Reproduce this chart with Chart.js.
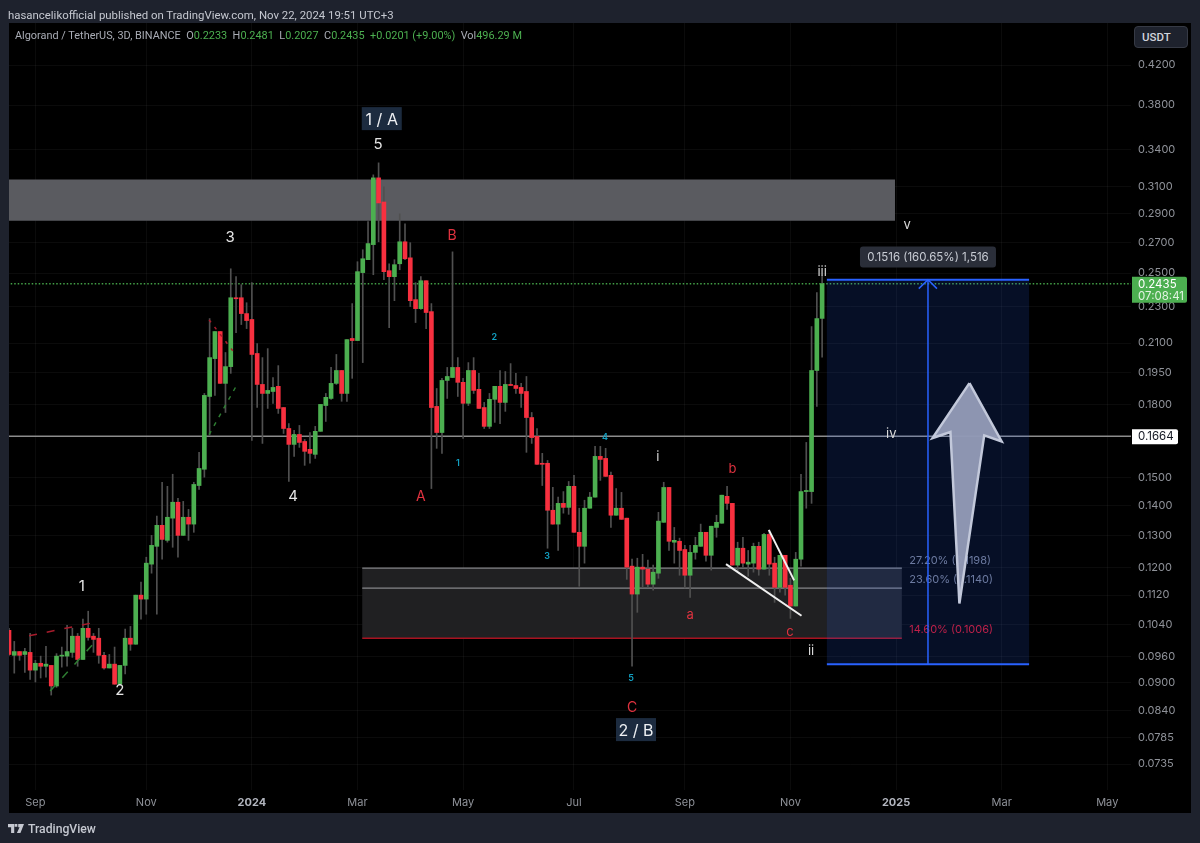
<!DOCTYPE html>
<html>
<head>
<meta charset="utf-8">
<title>Algorand / TetherUS</title>
<script src="https://cdn.jsdelivr.net/npm/chart.js@4"></script>
<style>
  html, body { margin: 0; padding: 0; background: #1e222d; }
  body { width: 1200px; height: 843px; position: relative; overflow: hidden; font-family: Inter, sans-serif; }
  #panel { position: absolute; left: 9px; top: 23px; width: 1182px; height: 790px; background: #000; }
  canvas { position: absolute; left: 0; top: 0; }
  .txt { position: absolute; white-space: pre; font-family: Roboto, sans-serif; }
  #published { left: 8px; top: 8px; font-size: 11.4px; color: #c5c8d0; }
  #legend { left: 15px; top: 29px; font-size: 10.9px; color: #a9acb5; }
  #legend b { font-weight: 400; color: #4caf50; }
  #unit { left: 1134px; top: 26px; width: 54px; height: 22px; box-sizing: border-box; border: 1px solid #363a45;
          border-radius: 4px; background: #1e222d; color: #d1d4dc; font-size: 11.5px; font-weight: 500; padding-left: 7px; line-height: 20px; }
  #brand { left: 28px; top: 822px; font-size: 12.2px; font-weight: 500; color: #c5c8d0; }
  #logo { position: absolute; left: 8px; top: 824px; }
</style>
</head>
<body>
<div id="panel"></div>
<canvas id="myChart" width="1200" height="843"></canvas>
<div class="txt" id="published">hasancelikofficial published on TradingView.com, Nov 22, 2024 19:51 UTC+3</div>
<div class="txt" id="legend">Algorand / TetherUS, 3D, BINANCE  O<b>0.2233</b>  H<b>0.2481</b>  L<b>0.2027</b>  C<b>0.2435</b>  <b>+0.0201 (+9.00%)</b>  Vol<b>496.29 M</b></div>
<div class="txt" id="unit">USDT</div>
<svg id="logo" width="16" height="9" viewBox="0 0 36 20"><path fill="#c5c8d0" d="M0 0h14v20H7V7H0zM15 0h6v6h-6zM23 0h13l-8 20h-8l6-13h-3z"/></svg>
<div class="txt" id="brand">TradingView</div>

<script>
// 3D candles
var opens = [
  0.1026,0.0964,0.0973,0.0966,0.0971,0.0929,0.0945,0.0938,0.0940,0.0893,
  0.0962,0.0962,0.0971,0.1011,0.0954,0.1031,0.1011,0.1006,0.0964,0.0934,
  0.0943,0.0897,0.0940,0.1006,0.0991,0.1120,0.1109,0.1210,0.1265,0.1333,
  0.1284,0.1357,0.1412,0.1300,0.1360,0.1337,0.1472,0.1533,0.1838,0.2020,
  0.2161,0.1899,0.1980,0.2351,0.2351,0.2260,0.2227,0.2046,0.1894,0.1852,
  0.1861,0.1885,0.1788,0.1697,0.1631,0.1672,0.1643,0.1611,0.1591,0.1685,
  0.1797,0.1829,0.1899,0.1961,0.1852,0.2124,0.2113,0.2503,0.2585,0.2684,
  0.3170,0.2985,0.2515,0.2478,0.2559,0.2703,0.2597,0.2340,0.2288,0.2453,
  0.2271,0.1793,0.1680,0.1913,0.1927,0.1976,0.1904,0.1807,0.1961,0.1871,
  0.1788,0.1706,0.1825,0.1885,0.1811,0.1894,0.1889,0.1880,0.1861,0.1744,
  0.1664,0.1556,0.1556,0.1384,0.1337,0.1408,0.1394,0.1469,0.1310,0.1265,
  0.1391,0.1430,0.1583,0.1575,0.1510,0.1367,0.1391,0.1357,0.1204,0.1123,
  0.1201,0.1195,0.1151,0.1183,0.1343,0.1465,0.1278,0.1281,0.1255,0.1177,
  0.1246,0.1265,0.1310,0.1237,0.1326,0.1340,0.1433,0.1408,0.1207,0.1259,
  0.1210,0.1213,0.1265,0.1195,0.1303,0.1213,0.1142,0.1237,0.1148,0.1090,
  0.1225,0.1450,0.1450,0.1961,0.2233
];
var closes = [
  0.0966,0.0973,0.0964,0.0973,0.0929,0.0945,0.0938,0.0943,0.0893,0.0962,
  0.0964,0.0973,0.1011,0.0954,0.1031,0.1008,0.1003,0.0964,0.0934,0.0943,
  0.0897,0.0940,0.1006,0.0991,0.1120,0.1109,0.1213,0.1268,0.1333,0.1287,
  0.1360,0.1412,0.1300,0.1360,0.1337,0.1476,0.1536,0.1843,0.2025,0.2161,
  0.1899,0.1980,0.2351,0.2345,0.2260,0.2221,0.2041,0.1894,0.1852,0.1866,
  0.1880,0.1784,0.1697,0.1631,0.1672,0.1639,0.1603,0.1595,0.1685,0.1802,
  0.1834,0.1899,0.1961,0.1852,0.2118,0.2113,0.2509,0.2591,0.2691,0.3170,
  0.2978,0.2509,0.2478,0.2553,0.2703,0.2591,0.2334,0.2288,0.2453,0.2266,
  0.1788,0.1680,0.1913,0.1932,0.1976,0.1904,0.1807,0.1961,0.1866,0.1784,
  0.1706,0.1825,0.1885,0.1811,0.1894,0.1889,0.1875,0.1852,0.1744,0.1659,
  0.1552,0.1552,0.1384,0.1337,0.1408,0.1394,0.1469,0.1310,0.1265,0.1391,
  0.1430,0.1583,0.1571,0.1506,0.1367,0.1391,0.1353,0.1201,0.1123,0.1201,
  0.1195,0.1151,0.1186,0.1347,0.1465,0.1281,0.1284,0.1252,0.1177,0.1246,
  0.1268,0.1310,0.1237,0.1330,0.1343,0.1437,0.1408,0.1207,0.1259,0.1213,
  0.1216,0.1265,0.1195,0.1303,0.1210,0.1142,0.1237,0.1142,0.1090,0.1225,
  0.1450,0.1454,0.1961,0.2232,0.2435
];
var highs = [
  0.1031,0.0998,0.0973,0.0981,0.1018,0.0952,0.0962,0.0986,0.0940,0.0968,
  0.0984,0.1039,0.1031,0.1018,0.1055,0.1076,0.1018,0.1031,0.0971,0.0966,
  0.0984,0.0940,0.1029,0.1036,0.1120,0.1157,0.1231,0.1300,0.1364,0.1484,
  0.1469,0.1514,0.1426,0.1415,0.1387,0.1484,0.1599,0.1852,0.2232,0.2161,
  0.2161,0.2051,0.2527,0.2478,0.2429,0.2322,0.2441,0.2097,0.2025,0.2071,
  0.1927,0.1985,0.1788,0.1718,0.1689,0.1710,0.1651,0.1680,0.1706,0.1802,
  0.1852,0.1976,0.2041,0.1961,0.2118,0.2317,0.2572,0.2650,0.2842,0.3194,
  0.3291,0.3100,0.2559,0.2585,0.2898,0.2827,0.2697,0.2441,0.2478,0.2453,
  0.2317,0.1875,0.1923,0.1976,0.2636,0.2025,0.1923,0.2000,0.2025,0.1947,
  0.1811,0.1852,0.1885,0.1961,0.1956,0.1995,0.1947,0.1899,0.1932,0.1766,
  0.1697,0.1595,0.1567,0.1465,0.1430,0.1450,0.1487,0.1510,0.1391,0.1419,
  0.1447,0.1623,0.1623,0.1615,0.1522,0.1461,0.1447,0.1357,0.1225,0.1228,
  0.1240,0.1222,0.1207,0.1377,0.1484,0.1465,0.1326,0.1291,0.1268,0.1268,
  0.1294,0.1337,0.1310,0.1330,0.1367,0.1437,0.1469,0.1408,0.1278,0.1294,
  0.1252,0.1275,0.1278,0.1307,0.1316,0.1231,0.1237,0.1237,0.1168,0.1246,
  0.1514,0.1639,0.2188,0.2381,0.2481
];
var lows = [
  0.0964,0.0922,0.0952,0.0924,0.0908,0.0902,0.0911,0.0913,0.0873,0.0890,
  0.0936,0.0938,0.0959,0.0938,0.0954,0.1001,0.0971,0.0945,0.0931,0.0934,
  0.0897,0.0895,0.0920,0.0976,0.0991,0.1055,0.1068,0.1183,0.1068,0.1225,
  0.1278,0.1262,0.1231,0.1300,0.1284,0.1310,0.1458,0.1503,0.1668,0.1843,
  0.1899,0.1766,0.1947,0.2155,0.2199,0.2177,0.1647,0.1788,0.1635,0.1784,
  0.1807,0.1762,0.1676,0.1487,0.1583,0.1619,0.1548,0.1556,0.1575,0.1685,
  0.1727,0.1825,0.1894,0.1816,0.1816,0.1923,0.2113,0.2000,0.2585,0.2490,
  0.2703,0.2459,0.2182,0.2334,0.2521,0.2585,0.2300,0.2210,0.2283,0.2177,
  0.1461,0.1615,0.1595,0.1829,0.1927,0.1838,0.1655,0.1797,0.1852,0.1784,
  0.1697,0.1697,0.1723,0.1718,0.1771,0.1889,0.1852,0.1788,0.1599,0.1635,
  0.1552,0.1472,0.1259,0.1337,0.1252,0.1374,0.1370,0.1310,0.1145,0.1213,
  0.1391,0.1430,0.1491,0.1506,0.1326,0.1367,0.1353,0.1165,0.0938,0.1073,
  0.1142,0.1142,0.1134,0.1168,0.1343,0.1252,0.1213,0.1177,0.1140,0.1114,
  0.1225,0.1265,0.1219,0.1192,0.1294,0.1340,0.1387,0.1207,0.1189,0.1201,
  0.1174,0.1186,0.1177,0.1195,0.1177,0.1100,0.1128,0.1120,0.1057,0.1090,
  0.1204,0.1391,0.1408,0.1793,0.2027
];

// axes
var priceTicks = [0.42,0.38,0.34,0.31,0.29,0.27,0.25,0.23,0.21,0.195,0.18,0.15,0.14,0.13,0.12,0.112,0.104,0.096,0.09,0.084,0.0785,0.0735];
var timeTicks = [5,26,46,66,86,107,128,148,168,188,208];
var timeLabels = ['Sep','Nov','2024','Mar','May','Jul','Sep','Nov','2025','Mar','May'];
var yearTicks = [46,168];
var xMax = 212.5, yMin = 0.0689, yMax = 0.4664;

// drawings: [candle index, price]
var resistanceZone = [[-1,0.3158],[167.8,0.3158],[167.8,0.2848],[-1,0.2848],[-1,0.3158]];
var fibZone = [[66.9,0.1198],[169.1,0.1198],[169.1,0.1006],[66.9,0.1006],[66.9,0.1198]];
var fibTop = [[66.9,0.1198],[169.1,0.1198]];
var fibMid = [[66.9,0.1140],[169.1,0.1140]];
var fibLow = [[66.9,0.1006],[169.1,0.1006]];
var measureBox = [[154.9,0.2459],[193.2,0.2459],[193.2,0.0943],[154.9,0.0943],[154.9,0.2459]];
var measureTop = [[154.9,0.2459],[193.2,0.2459]];
var measureBottom = [[154.9,0.0943],[193.2,0.0943]];
var measureStem = [[174.05,0.0943],[174.05,0.2459]];
var measureHead = [[172.3,0.2405],[174.05,0.2459],[175.75,0.2405]];
var levelLine = [[-1,0.1664],[xMax,0.1664]];
var priceLine = [[-1,0.2435],[xMax,0.2435]];
var wedgeLower = [[135.8,0.1210],[150.1,0.1064]];
var wedgeUpper = [[143.9,0.1318],[148.7,0.1162]];
var channelRed1 = [[3.8,0.1012],[15.7,0.1045]];
var channelGreen1 = [[7.8,0.0882],[15.9,0.0991]];
var channelRed2 = [[37.9,0.2225],[42.6,0.2052]];
var channelGreen2 = [[37.9,0.1671],[43,0.1885]];
var bigArrow = [[181.9,0.1900],[188,0.1643],[184.7,0.1668],[180,0.1097],[178.3,0.1682],[174.9,0.1657],[181.9,0.1900]];

// wave counts: [text, candle index, price]
var whiteWaves = [['1',13.8,0.1148],['2',21,0.0886],['3',41.9,0.2737],['4',53.8,0.1436],['5',69.9,0.3450]];
var redWaves = [['A',78,0.1436],['B',83.9,0.2751],['C',118,0.0847]];
var redMinor = [['a',129,0.1068],['b',137,0.1537],['c',147.9,0.1023]];
var cyanWaves = [['1',85,0.1559],['2',91.9,0.2134],['3',101.9,0.1237],['4',112.9,0.1664],['5',117.8,0.0913],['5',-0.6,0.0818]];
var romanWaves = [['i',122.9,0.1583],['ii',151.9,0.0976],['iii',154,0.2515],['iv',167.1,0.1676],['v',170.1,0.2827]];
var boxedWaves = [['1 / A',70.6,0.3670],['2 / B',118.75,0.0800]];
var fibLabels = [['27.20% (0.1198)',170.5,0.1225],['23.60% (0.1140)',170.5,0.1168]];
var fibLabelsRed = [['14.60% (0.1006)',170.5,0.1029]];
var measureText = ['0.1516 (160.65%) 1,516',174.05,0.2605];
var levelPrice = 0.1664, lastPrice = 0.2435, countdown = '07:08:41';

function toXY(points) {
  return points.map(function (p) { return { x: p[0], y: p[1] }; });
}
var indexes = closes.map(function (_, i) { return i; });
var candleColors = indexes.map(function (i) { return closes[i] >= opens[i] ? '#4caf50' : '#f7303f'; });

function lineSet(points, color, width, order, dash) {
  return { type: 'line', data: toXY(points), borderColor: color, borderWidth: width, borderDash: dash || [],
           pointRadius: 0, fill: false, tension: 0, order: order };
}
function shapeSet(points, color, order) {
  return { type: 'line', data: toXY(points), borderColor: 'rgba(0,0,0,0)', borderWidth: 0, backgroundColor: color,
           pointRadius: 0, fill: 'shape', tension: 0, order: order };
}

// text notes are anchored to the chart through its scales
function drawNotes(ctx, chart, notes, font, color) {
  var x = chart.scales.x, y = chart.scales.y;
  ctx.font = font;
  ctx.fillStyle = color;
  ctx.textAlign = 'center';
  ctx.textBaseline = 'middle';
  notes.forEach(function (n) {
    ctx.fillText(n[0], x.getPixelForValue(n[1]), y.getPixelForValue(n[2]) + 1);
  });
}

var fibTextPlugin = {
  id: 'fibText',
  beforeDatasetsDraw: function (chart) {
    var ctx = chart.ctx;
    ctx.save();
    ctx.font = '11px Inter';
    ctx.textAlign = 'left';
    ctx.textBaseline = 'middle';
    [[fibLabels, '#787e90'], [fibLabelsRed, '#d8152a']].forEach(function (set) {
      ctx.fillStyle = set[1];
      set[0].forEach(function (n) {
        ctx.fillText(n[0], chart.scales.x.getPixelForValue(n[1]), chart.scales.y.getPixelForValue(n[2]) + 1);
      });
    });
    ctx.restore();
  }
};

var notesPlugin = {
  id: 'notes',
  afterDatasetsDraw: function (chart) {
    var ctx = chart.ctx, area = chart.chartArea, x = chart.scales.x, y = chart.scales.y;
    ctx.save();
    ctx.beginPath();
    ctx.rect(area.left, area.top, area.right - area.left, area.bottom - area.top);
    ctx.clip();
    drawNotes(ctx, chart, whiteWaves, '15px Inter', '#e6e6e6');
    drawNotes(ctx, chart, redWaves, '14px Inter', '#e0323f');
    drawNotes(ctx, chart, redMinor, '13px Inter', '#e0323f');
    drawNotes(ctx, chart, cyanWaves, '600 9px Inter', '#12a0c2');
    drawNotes(ctx, chart, romanWaves, '13px Inter', '#d8d8d8');

    // boxed main waves
    ctx.font = '16px Inter';
    boxedWaves.forEach(function (n) {
      var px = x.getPixelForValue(n[1]), py = y.getPixelForValue(n[2]);
      ctx.fillStyle = '#1c2b3f';
      ctx.fillRect(px - 20, py - 12, 40, 23);
      ctx.fillStyle = '#eef0f3';
      ctx.fillText(n[0], px, py + 1);
    });

    // size label of the measure tool
    var mx = x.getPixelForValue(measureText[1]), my = y.getPixelForValue(measureText[2]);
    ctx.fillStyle = '#2a2e39';
    ctx.beginPath();
    ctx.roundRect(mx - 68, my - 10, 136, 21, 3);
    ctx.fill();
    ctx.font = '11.5px Inter';
    ctx.fillStyle = '#c8ccd4';
    ctx.fillText(measureText[0], mx, my + 1);
    ctx.restore();
  },
  afterDraw: function (chart) {
    // price tags sit on the price axis
    var ctx = chart.ctx, y = chart.scales.y, left = chart.chartArea.right + 1;
    ctx.save();
    ctx.textAlign = 'left';
    ctx.textBaseline = 'middle';
    var lastY = y.getPixelForValue(lastPrice), levelY = y.getPixelForValue(levelPrice);
    ctx.fillStyle = '#4caf50';
    ctx.beginPath();
    ctx.roundRect(left, lastY - 7, 55, 26, [0, 2, 2, 0]);
    ctx.fill();
    ctx.font = '11.5px Inter';
    ctx.fillStyle = '#ffffff';
    ctx.fillText(lastPrice.toFixed(4), left + 6, lastY + 0.5);
    ctx.fillStyle = '#e2f3e3';
    ctx.fillText(countdown, left + 6, lastY + 12.5);
    ctx.fillStyle = '#ffffff';
    ctx.beginPath();
    ctx.roundRect(left, levelY - 7, 46, 15, [0, 2, 2, 0]);
    ctx.fill();
    ctx.fillStyle = '#131722';
    ctx.fillText(levelPrice.toFixed(4), left + 6, levelY + 0.5);
    ctx.restore();
  }
};

var ctx = document.getElementById('myChart').getContext('2d');
var myChart = new Chart(ctx, {
  type: 'bar',
  data: {
    datasets: [
      shapeSet(resistanceZone, '#5a5b60', 20),
      shapeSet(fibZone, '#202022', 19),
      lineSet(fibTop, '#85868a', 1.3, 18),
      lineSet(fibMid, '#85868a', 1.3, 18),
      lineSet(fibLow, '#a81220', 1.5, 18),
      lineSet(levelLine, '#8c8c8c', 1.5, 17),
      lineSet(priceLine, '#43a047', 1.5, 16, [1.5, 2]),
      { data: indexes.map(function (i) { return { x: i, y: [lows[i], highs[i]] }; }),
        backgroundColor: '#505050', barThickness: 1, order: 11, grouped: false },
      { data: indexes.map(function (i) { return { x: i, y: [opens[i], closes[i]] }; }),
        backgroundColor: candleColors, barThickness: 4, minBarLength: 1, order: 10, grouped: false },
      shapeSet(measureBox, 'rgba(41,98,255,0.15)', 9),
      lineSet(measureTop, '#2962ff', 2, 8),
      lineSet(measureBottom, '#2962ff', 2, 8),
      lineSet(measureStem, '#2962ff', 1.5, 8),
      lineSet(measureHead, '#2962ff', 1.5, 8),
      lineSet(channelRed1, '#a81c2c', 1.5, 7, [8, 10]),
      lineSet(channelGreen1, '#2e7d32', 1.5, 7, [8, 10]),
      lineSet(channelRed2, '#a81c2c', 1.5, 7, [3, 6]),
      lineSet(channelGreen2, '#2e7d32', 1.5, 7, [4, 6]),
      lineSet(wedgeLower, '#f0f0f0', 2, 6),
      lineSet(wedgeUpper, '#f0f0f0', 2, 6),
      { type: 'line', data: toXY(bigArrow), borderColor: '#c2c8da', borderWidth: 2.5, backgroundColor: 'rgba(146,154,182,0.97)',
        pointRadius: 0, fill: 'shape', tension: 0, order: 5 }
    ]
  },
  options: {
    responsive: false,
    animation: false,
    events: [],
    layout: { padding: { left: 9, top: 23, right: 9, bottom: 30 } },
    plugins: { legend: { display: false }, tooltip: { enabled: false } },
    scales: {
      x: {
        type: 'linear',
        offset: false,
        min: 0,
        max: xMax,
        grid: { offset: false, color: 'rgba(255,255,255,0.045)', drawTicks: false },
        border: { display: false },
        afterBuildTicks: function (axis) {
          axis.ticks = timeTicks.map(function (v) { return { value: v }; });
        },
        afterFit: function (axis) { axis.height = 23; },
        ticks: {
          autoSkip: false,
          maxRotation: 0,
          padding: 6,
          color: function (c) { return c.tick && yearTicks.indexOf(c.tick.value) >= 0 ? '#b2b5be' : '#8f9299'; },
          font: function (c) {
            var isYear = c.tick && yearTicks.indexOf(c.tick.value) >= 0;
            return { family: 'Inter', size: 11, weight: isYear ? '700' : '400' };
          },
          callback: function (v) { return timeLabels[timeTicks.indexOf(v)]; }
        }
      },
      y: {
        type: 'logarithmic',
        position: 'right',
        bounds: 'data',
        min: yMin,
        max: yMax,
        grid: { color: 'rgba(255,255,255,0.045)', drawTicks: false },
        border: { display: false },
        afterBuildTicks: function (axis) {
          axis.ticks = priceTicks.map(function (v) { return { value: v }; });
        },
        afterFit: function (axis) { axis.width = 60; },
        ticks: {
          autoSkip: false,
          padding: 7,
          color: '#8f9299',
          font: { family: 'Inter', size: 11 },
          callback: function (v) { return v.toFixed(4); }
        }
      }
    }
  },
  plugins: [fibTextPlugin, notesPlugin]
});
</script>
</body>
</html>
